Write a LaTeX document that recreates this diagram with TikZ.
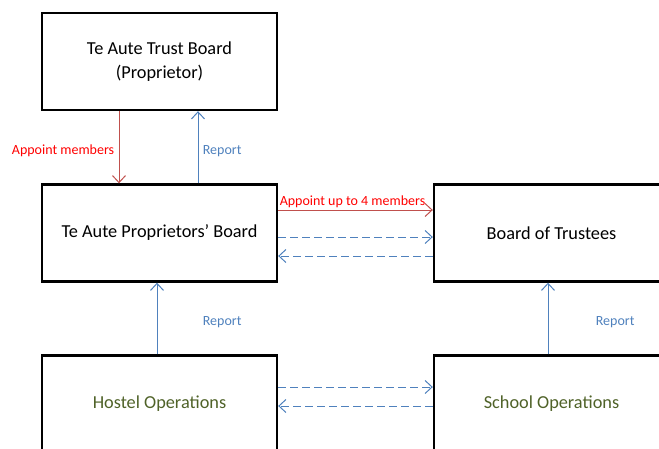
\documentclass[tikz,border=0pt]{standalone}
\usepackage{fontspec}
\setmainfont{Carlito}
\usetikzlibrary{arrows.meta}
\definecolor{redline}{HTML}{C0504D}
\definecolor{redtext}{HTML}{FF0000}
\definecolor{blueline}{HTML}{4F81BD}
\definecolor{greentext}{HTML}{4F6228}
\begin{document}
\begin{tikzpicture}[x=1pt, y=-1pt,
    box/.style={draw, line width=2.4pt, minimum width=235pt, minimum height=97pt, font=\fontsize{18.3}{24}\selectfont, align=center},
    redarrow/.style={draw=redline, line width=1pt, -{Straight Barb[length=7pt,width=13pt]}},
    bluearrow/.style={draw=blueline, line width=1pt, -{Straight Barb[length=7pt,width=13pt]}},
    dasharrow/.style={bluearrow, dash pattern=on 8pt off 4pt},
    lbl/.style={font=\fontsize{14}{16}\selectfont}]
                \useasboundingbox (0,0) rectangle (659,448);
                \node[box] (TB) at (159.5,61.5) {Te Aute Trust Board\\(Proprietor)};
                \node[box] (PB) at (159.5,233) {Te Aute Proprietors' Board};
                \node[box] (BT) at (551.5,233) {Board of Trustees};
                \node[box, text=greentext] (HO) at (159.5,404) {Hostel Operations};
                \node[box, text=greentext] (SO) at (551.5,404) {School Operations};

                \draw[redarrow] ([xshift=-40.5pt]TB.south) -- node[lbl, text=redtext, left=1pt, yshift=-4pt] {Appoint members} ([xshift=-40.5pt]PB.north);
                \draw[bluearrow] ([xshift=38.5pt]PB.north) -- node[lbl, text=blueline, right=1pt, yshift=-4pt] {Report} ([xshift=38.5pt]TB.south);
                \draw[redarrow] ([yshift=23pt]PB.east) -- node[lbl, text=redtext, above=-2pt, xshift=-3pt] {Appoint up to 4 members} ([yshift=23pt]BT.west);
                \draw[dasharrow] ([yshift=-4pt]PB.east) -- ([yshift=-4pt]BT.west);
                \draw[dasharrow] ([yshift=-23pt]BT.west) -- ([yshift=-23pt]PB.east);
                \draw[bluearrow] ([xshift=-2.5pt]HO.north) -- node[lbl, text=blueline, right=42pt, yshift=-4pt] {Report} ([xshift=-2.5pt]PB.south);
                \draw[bluearrow] ([xshift=-3.5pt]SO.north) -- node[lbl, text=blueline, right=44pt, yshift=-4pt] {Report} ([xshift=-3.5pt]BT.south);
                \draw[dasharrow] ([yshift=17pt]HO.east) -- ([yshift=17pt]SO.west);
                \draw[dasharrow] ([yshift=-2pt]SO.west) -- ([yshift=-2pt]HO.east);
            \end{tikzpicture}
\end{document}
